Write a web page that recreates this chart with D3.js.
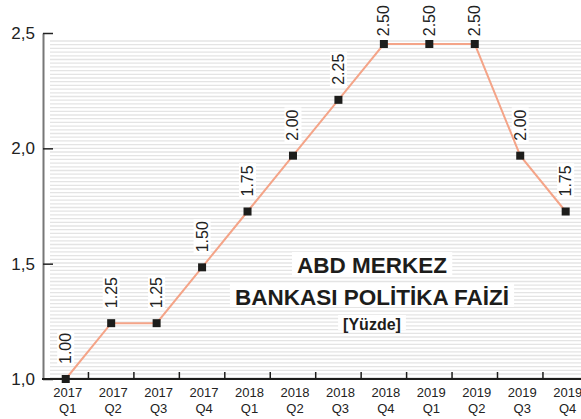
<!DOCTYPE html>
<html>
<head>
<meta charset="utf-8">
<script src="https://cdn.jsdelivr.net/npm/d3@7"></script>
<style>
  body { margin: 0; background: #fff; }
  svg { display: block; }
  text { font-family: "Liberation Sans", Arial, Helvetica, sans-serif; }
</style>
</head>
<body>
<div id="chart"></div>
<script>
// Data
const years = ['2017', '2017', '2017', '2017', '2018', '2018', '2018', '2018', '2019', '2019', '2019', '2019'];
const quarters = ['Q1', 'Q2', 'Q3', 'Q4', 'Q1', 'Q2', 'Q3', 'Q4', 'Q1', 'Q2', 'Q3', 'Q4'];
const rates = [1.00, 1.25, 1.25, 1.50, 1.75, 2.00, 2.25, 2.50, 2.50, 2.50, 2.00, 1.75];
const yTicks = [1.0, 1.5, 2.0, 2.5];
const titleLines = ['ABD MERKEZ', 'BANKASI POLİTİKA FAİZİ', '[Yüzde]'];

const width = 581, height = 419;
const left = 43, base = 379, step = 45.45;
const lineColor = '#f4a488';

const periods = years.map((y, i) => y + ' ' + quarters[i]);

const svg = d3.select('#chart').append('svg')
  .attr('width', width)
  .attr('height', height);

const x = d3.scaleBand()
  .domain(periods)
  .range([left, left + periods.length * step])
  .padding(0);

// points sit on a slightly shorter scale than the printed axis
const y = d3.scaleLinear().domain([1, 2.5]).range([base, 44]);
const yAxisScale = d3.scaleLinear().domain([1, 2.5]).range([base, 33]);

const cx = d => x(d) + x.bandwidth() / 2;

// striped background
svg.append('g')
  .selectAll('line')
  .data(d3.range(41, base - 1, 3.7))
  .enter().append('line')
  .attr('x1', 50).attr('x2', width)
  .attr('y1', d => d).attr('y2', d => d)
  .attr('stroke', '#e4e4e4')
  .attr('stroke-width', 1.3);

// value labels (with white backing)
const fmt = d3.format('.2f');
const labels = svg.append('g')
  .selectAll('g')
  .data(periods)
  .enter().append('g');

labels.append('text')
  .attr('font-size', '16px')
  .attr('fill', '#222')
  .text((d, i) => fmt(rates[i]));

labels.each(function (d, i) {
  const g = d3.select(this);
  const bb = g.select('text').node().getBBox();
  // keep the label inside the picture at the top
  const gap = Math.min(15, y(rates[i]) - 5 - bb.width);
  g.attr('transform', `translate(${cx(d) + 5.5},${y(rates[i]) - gap}) rotate(-90)`);
  g.insert('rect', 'text')
    .attr('x', bb.x - 2).attr('y', -14)
    .attr('width', bb.width + 4).attr('height', 17)
    .attr('fill', '#fff');
});

// line
const line = d3.line()
  .x((d, i) => cx(periods[i]))
  .y(d => y(d));

svg.append('path')
  .datum(rates)
  .attr('d', line)
  .attr('fill', 'none')
  .attr('stroke', lineColor)
  .attr('stroke-width', 2);

// markers
svg.append('g')
  .selectAll('rect')
  .data(rates)
  .enter().append('rect')
  .attr('x', (d, i) => cx(periods[i]) - 4)
  .attr('y', d => y(d) - 4)
  .attr('width', 8)
  .attr('height', 8)
  .attr('fill', '#1d1d1b');

// title block
const title = svg.append('g');
const titleSizes = [22.5, 22.5, 16];
const titleBase = [273, 305, 330];
titleLines.forEach((t, i) => {
  const g = title.append('g');
  const txt = g.append('text')
    .attr('x', 372)
    .attr('y', titleBase[i])
    .attr('text-anchor', 'middle')
    .attr('font-size', titleSizes[i] + 'px')
    .attr('font-weight', 'bold')
    .attr('fill', '#1d1d1b')
    .text(t);
  const bb = txt.node().getBBox();
  g.insert('rect', 'text')
    .attr('x', bb.x - 5)
    .attr('y', bb.y - 1)
    .attr('width', bb.width + 10)
    .attr('height', bb.height - 2)
    .attr('fill', '#fff');
});

// y axis
const yAxis = svg.append('g')
  .attr('transform', `translate(${left},0)`)
  .call(d3.axisLeft(yAxisScale)
    .tickValues(yTicks)
    .tickSize(-10)
    .tickSizeOuter(0)
    .tickPadding(8)
    .tickFormat(d => d3.format('.1f')(d).replace('.', ',')));

yAxis.select('.domain').attr('stroke', '#777').attr('stroke-width', 2);
yAxis.selectAll('.tick line').attr('stroke', '#222').attr('stroke-width', 1.5);
yAxis.selectAll('.tick text')
  .attr('font-size', '17px')
  .attr('fill', '#222')
  .attr('font-family', '"Liberation Sans", Arial, sans-serif');

// x axis
svg.append('line')
  .attr('x1', left - 1).attr('x2', width)
  .attr('y1', base).attr('y2', base)
  .attr('stroke', '#1d1d1b')
  .attr('stroke-width', 2);

svg.append('g')
  .selectAll('line')
  .data(periods)
  .enter().append('line')
  .attr('x1', d => x(d) + x.bandwidth())
  .attr('x2', d => x(d) + x.bandwidth())
  .attr('y1', base - 7)
  .attr('y2', base)
  .attr('stroke', '#1d1d1b')
  .attr('stroke-width', 1.5);

const xLabels = svg.append('g')
  .selectAll('text')
  .data(periods)
  .enter().append('text')
  .attr('text-anchor', 'middle')
  .attr('font-size', '13px')
  .attr('fill', '#222');

xLabels.append('tspan')
  .attr('x', d => cx(d) + 2)
  .attr('y', 397)
  .text((d, i) => years[i]);

xLabels.append('tspan')
  .attr('x', d => cx(d) + 2)
  .attr('y', 413)
  .text((d, i) => quarters[i]);
</script>
</body>
</html>
